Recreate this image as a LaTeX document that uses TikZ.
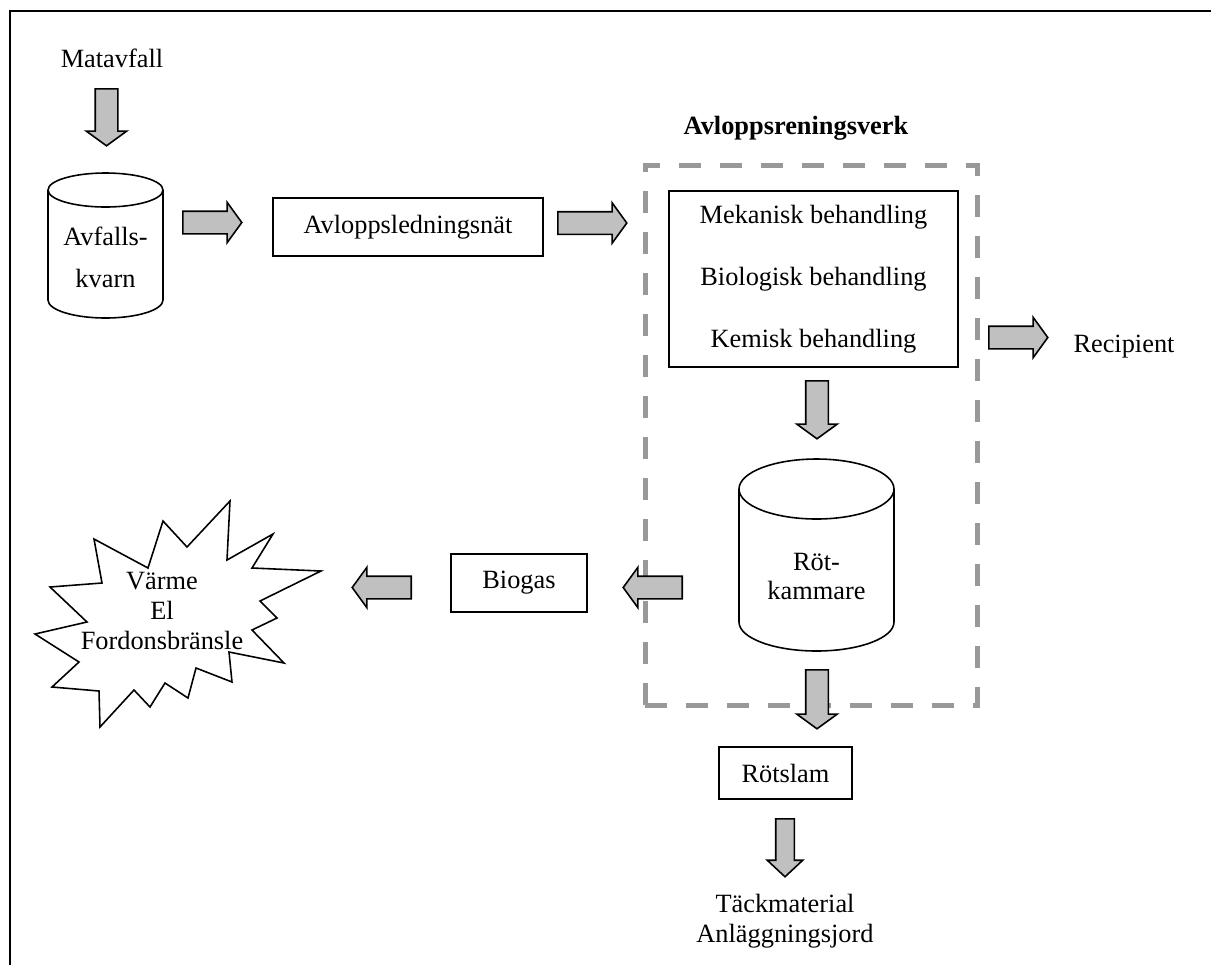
\documentclass[tikz,border=0pt]{standalone}
\usepackage{fontspec}
\setmainfont{Liberation Serif}
\usetikzlibrary{shapes.arrows}
\definecolor{arrowgray}{RGB}{192,192,192}
\definecolor{dashgray}{RGB}{153,153,153}
\def\pxl{0.02cm}
\tikzset{
    every node/.style={font=\fontsize{15pt}{18pt}\selectfont},
    box/.style={draw,line width=0.9pt,inner sep=0pt},
    tank/.style={draw,line width=0.9pt},
    blockarrow/.style={draw,line width=0.9pt,fill=arrowgray,single arrow,anchor=tail,inner xsep=0pt,
        inner ysep=10.5*\pxl,single arrow head extend=9*\pxl,single arrow tip angle=108},
    plant/.style={draw=dashgray,line width=0.1cm,dash pattern=on 0.44cm off 0.38cm,inner sep=0pt},
    burst/.style={draw,line width=0.9pt,line join=miter},
}

\begin{document}
\begin{tikzpicture}[x=\pxl,y=-\pxl]
    \useasboundingbox (0,0) rectangle (1211,965);
    % outer frame
    \draw[line width=1.2pt] (10,965) -- (10,11) -- (1211,11);
    % the plant
    \node[plant,minimum width=332*\pxl,minimum height=540*\pxl] (verk) at (811,435) {};
    \node[font=\fontsize{15pt}{18pt}\selectfont\bfseries] (verktitle) at (796,128) {Avloppsreningsverk};
    % tanks
    \draw[tank] (105.5,190) ellipse[x radius=57.5,y radius=17]
        (48,190) -- (48,300) arc[start angle=180,end angle=0,x radius=57.5,y radius=18] -- (163,190);
    \draw[tank] (816.5,489) ellipse[x radius=77.5,y radius=30]
        (739,489) -- (739,622) arc[start angle=180,end angle=0,x radius=77.5,y radius=29] -- (894,489);
    % boxes and texts
    \node (mat) at (112,58) {Matavfall};
    \node[align=center,font=\fontsize{15pt}{23.8pt}\selectfont] (kvarn) at (105.5,257.5) {Avfalls-\\kvarn};
    \node[box,minimum width=270*\pxl,minimum height=58*\pxl] (ledn) at (408,227) {Avloppsledningsnät};
    \node[box,minimum width=289*\pxl,minimum height=176*\pxl,align=center,
        font=\fontsize{15pt}{35.2pt}\selectfont] (beh) at (813.5,279)
        {Mekanisk behandling\\Biologisk behandling\\Kemisk behandling};
    \node (rec) at (1124,347) {Recipient};
    \node[align=center,font=\fontsize{15pt}{17pt}\selectfont] (rot) at (816.5,576.5) {Röt-\\kammare};
    \node[box,minimum width=136*\pxl,minimum height=58*\pxl] (biogas) at (519,583) {Biogas};
    \node[box,minimum width=133*\pxl,minimum height=52*\pxl] (slam) at (785.5,773) {Rötslam};
    \node[align=center,font=\fontsize{15pt}{17pt}\selectfont] (tack) at (785,921) {Täckmaterial\\Anläggningsjord};
    % energy burst
    \draw[burst] plot coordinates {(230,501) (227,560) (273,534) (252,568) (321,571) (260,601)
        (277,618) (252,630) (284,663) (229,652) (232,682) (196,668) (188,698) (165,683)
        (150,707) (134,690) (100,727) (99,691) (52,687) (79,662) (35,634) (87,622)
        (50,587) (102,583) (94,539) (148,568) (163,521) (187,547)} -- cycle;
    \node[align=center,font=\fontsize{15pt}{17.3pt}\selectfont] (energi) at (162,611) {Värme\\El\\Fordonsbränsle};
    % block arrows: name/tail x/tail y/length/angle
    \foreach \name/\ax/\ay/\len/\ang in {
        d1/106.5/88/57/-90, r1/182/222.5/59/0, r2/557/223/69/0,
        d2/817/380/58/-90, r3/988/337.5/59/0, d3/817/669/59/-90,
        l1/683/587.5/59/180, l2/412/587.5/59/180}
        \node[blockarrow,minimum height=\len*\pxl,rotate=\ang] (\name) at (\ax,\ay) {};
    \node[blockarrow,minimum height=58*\pxl,inner ysep=8.5*\pxl,single arrow head extend=8.5*\pxl,
        single arrow tip angle=94,rotate=-90] (d4) at (785,818) {};
\end{tikzpicture}
\end{document}
